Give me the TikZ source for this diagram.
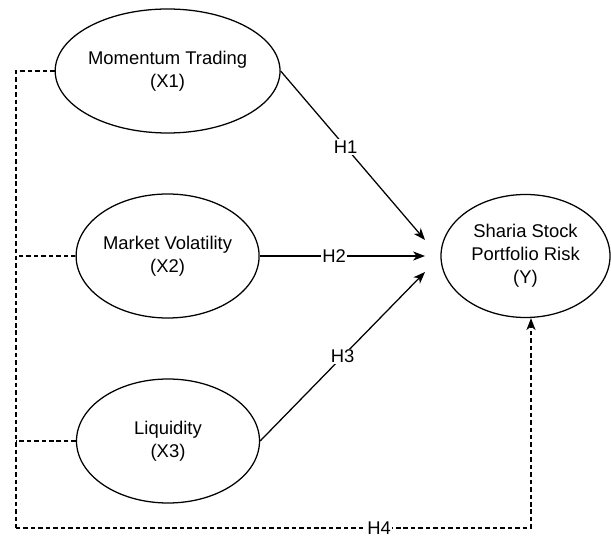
\documentclass[tikz,border=0pt]{standalone}
\usepackage{fontspec}
\setmainfont{Liberation Sans}
\usepackage{tikz}
\usetikzlibrary{arrows.meta,shapes.geometric}

\begin{document}
\begin{tikzpicture}[
			line cap=butt,
			line join=miter,
			every node/.style={font=\fontsize{13.1}{16.2}\selectfont},
			var/.style={draw, ellipse, line width=0.9pt, inner sep=0pt,
				minimum width=4.575cm, minimum height=3.1cm, align=center},
			hyp/.style={line width=0.9pt, -{Stealth[length=8.5pt, width=6.5pt, inset=2.5pt]}},
			ctrl/.style={line width=0.9pt, dash pattern=on 3.2pt off 2.1pt},
			lbl/.style={fill=white, inner sep=1pt}
			]
			\useasboundingbox (0,0) rectangle (15.275,13.45);
			
			% variables
			\node[var] (x1) at (4.19,11.675) {Momentum Trading\\(X1)};
			\node[var] (x2) at (4.19,7.05) {Market Volatility\\(X2)};
			\node[var] (x3) at (4.2,2.425) {Liquidity\\(X3)};
			\node[var, minimum width=4.225cm, minimum height=3.075cm] (y) at (13.1375,7.05)
			{Sharia Stock\\Portfolio Risk\\(Y)};
			
			% free ends of the arrows
			\coordinate (e1) at (10.625,7.45);
			\coordinate (e2) at (10.625,7.05);
			\coordinate (e3) at (10.625,6.65);
			\coordinate (lft) at (0.4,0.25);
			\coordinate (rgt) at (13.275,0.25);
			
			% hypotheses
			\draw[hyp] (x1.east) -- node[lbl, pos=0.45] {H1} (e1);
			\draw[hyp] (x2.east) -- node[lbl, pos=0.45] {H2} (e2);
			\draw[hyp] (x3.east) -- node[lbl, pos=0.5] {H3} (e3);
			
			% simultaneous effect
			\draw[ctrl] (x1.west) -| (lft);
			\draw[ctrl] (x2.west) -- (x2.west -| lft);
			\draw[ctrl] (x3.west) -- (x3.west -| lft);
			\draw[ctrl, -{Stealth[length=8.5pt, width=6.5pt, inset=2.5pt]}]
			(lft) -- node[lbl, pos=0.705] {H4} (rgt) -- (rgt |- y.south);
		\end{tikzpicture}
\end{document}
